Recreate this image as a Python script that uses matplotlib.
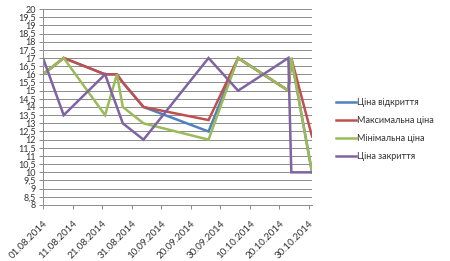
import numpy as np
import pandas as pd
import matplotlib
matplotlib.use("Agg")
import matplotlib.pyplot as plt

plt.rcParams['font.family'] = ['Lato', 'DejaVu Sans']

dates = ["01.08.2014", "08.08.2014", "22.08.2014", "26.08.2014", "28.08.2014",
         "04.09.2014", "26.09.2014", "06.10.2014", "23.10.2014", "24.10.2014",
         "31.10.2014"]
open_price = [16, 17, 16, 16, 15.5, 14, 12.5, 17, 15, 17, 10]
max_price = [16, 17, 16, 16, 15.5, 14, 13.2, 17, 15, 17, 12.2]
min_price = [16, 17, 13.5, 16, 14, 13, 12, 17, 15, 17, 10]
close_price = [17, 13.5, 16, 14, 13, 12, 17, 15, 17, 10, 10]

series_names = ["Ціна відкриття", "Максимальна ціна", "Мінімальна ціна", "Ціна закриття"]
colors = ["#4F81BD", "#C0504D", "#9BBB59", "#8064A2"]

x = pd.to_datetime(dates, format="%d.%m.%Y")

fig = plt.figure(figsize=(4.5, 2.61), dpi=100)
ax = fig.add_axes([43 / 450, 56 / 261, 269 / 450, 196 / 261])

for vals, name, c in zip([open_price, max_price, min_price, close_price], series_names, colors):
    ax.plot(x, vals, color=c, lw=1.8, label=name, solid_joinstyle="miter")

ax.set_ylim(8, 20)
yt = np.arange(8, 20.01, 0.5)
ax.set_yticks(yt)
ax.set_yticklabels([("%g" % v).replace(".", ",") for v in yt])
ax.yaxis.grid(True, color="#8c8c8c", lw=0.7)
ax.set_axisbelow(True)

start = pd.Timestamp("2014-08-01")
ax.set_xlim(start, pd.Timestamp("2014-10-31"))
xt = pd.date_range(start, periods=10, freq="10D")
ax.set_xticks(xt)
ax.set_xticklabels([d.strftime("%d.%m.%Y") for d in xt], rotation=45,
                   ha="right", rotation_mode="anchor")

for s in ["top", "right"]:
    ax.spines[s].set_visible(False)
for s in ["left", "bottom"]:
    ax.spines[s].set_color("#8c8c8c")
    ax.spines[s].set_linewidth(0.7)
ax.tick_params(axis="both", colors="#8c8c8c", labelcolor="#333333",
               length=3, width=0.7)
ax.tick_params(axis="y", labelsize=6.5, pad=2)
ax.tick_params(axis="x", labelsize=7, pad=7)

fig.legend(loc="center left", bbox_to_anchor=(328 / 450, 1 - 129.5 / 261),
           frameon=False, fontsize=6.5, handlelength=2.2, handletextpad=0.15,
           labelspacing=1.0, labelcolor="#333333")

fig.savefig("out.png", dpi=100)
